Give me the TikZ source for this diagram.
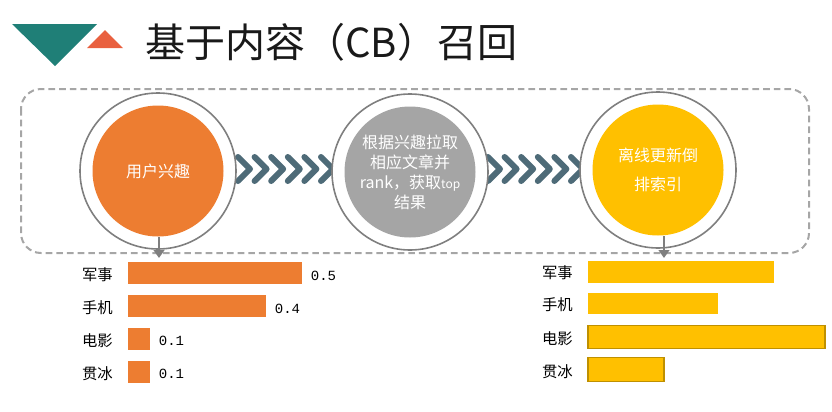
\documentclass[tikz,border=0pt]{standalone}
\usepackage{fontspec}
\setmainfont{Noto Sans CJK SC}
\setmonofont{Liberation Mono}
\usepackage{tikz}
\usetikzlibrary{arrows.meta}
\definecolor{teal70}{HTML}{1F7F77}
\definecolor{coral}{HTML}{E9603F}
\definecolor{slate}{HTML}{4E6B78}
\definecolor{orangebar}{HTML}{ED7D31}
\definecolor{gray65}{HTML}{A5A5A5}
\definecolor{goldbar}{HTML}{FFC000}
\definecolor{goldline}{HTML}{BF9000}
\definecolor{dashgray}{HTML}{A6A6A6}
\definecolor{ringgray}{HTML}{7F7F7F}

\tikzset{
  ring/.style={circle, draw=ringgray, line width=1.2pt, fill=white,
    minimum size=117pt, inner sep=0pt},
  ball/.style={circle, minimum size=98.25pt, inner sep=0pt, text=white,
    align=center, font=\fontsize{12}{15}\selectfont},
  chevron/.style={slate, line width=4.5pt, line cap=round, line join=round},
  downarrow/.style={ringgray, line width=2.2pt,
    -{Triangle[width=8pt, length=6pt]}},
  bar/.style={anchor=west, inner sep=0pt, outer sep=0pt},
  barlabel/.style={anchor=east, inner sep=0pt,
    font=\fontsize{11.5}{12}\selectfont},
  barvalue/.style={anchor=west, inner sep=0pt,
    font=\fontsize{10.5}{11}\ttfamily}
}

\begin{document}
\begin{tikzpicture}[x=0.75pt, y=-0.75pt]

  \useasboundingbox (0, 0) rectangle (832, 411);

  % title
  \fill[teal70] (12, 24) -- (97, 24) -- (55, 66) -- cycle;
  \fill[coral] (87, 48) -- (123, 48) -- (105, 30) -- cycle;
  \node[anchor=west, inner sep=0pt, text=black!90,
    font=\fontsize{30}{36}\selectfont] (title) at (145, 42) {基于内容（CB）召回};

  % dashed frame
  \draw[dashgray, line width=1.5pt, dash pattern=on 5pt off 3pt,
    rounded corners=15pt] (21, 89) rectangle (809, 253);

  % chevrons
  \foreach \x in { 250, 266.6, ..., 334 } {
    \draw[chevron] (\x-12, 157) -- (\x, 169) -- (\x-12, 181);
  }
  \foreach \x in { 500, 516.6, ..., 584 } {
    \draw[chevron] (\x-12, 157) -- (\x, 169) -- (\x-12, 181);
  }

  % circles
  \node[ring] (interest ring) at (158, 171) {};
  \node[ball, fill=orangebar] (interest) at (158, 171) {用户兴趣};

  \node[ring] (rank ring) at (410, 172) {};
  \node[ball, fill=gray65] (rank) at (410, 172)
    {根据兴趣拉取\\相应文章并\\rank，获取{\fontsize{9}{10}\selectfont top}\\结果};

  \node[ring] (index ring) at (658, 170) {};
  \node[ball, fill=goldbar, font=\fontsize{12}{21.75}\selectfont]
    (index) at (658, 170) {离线更新倒\\排索引};

  % down arrows
  \coordinate (interest tip) at (159, 258);
  \coordinate (index tip) at (664, 258);
  \draw[downarrow] (interest.south -| interest tip) -- (interest tip);
  \draw[downarrow] (index.south -| index tip) -- (index tip);

  % left bars
  \foreach \name/\len/\y/\val [count=\i] in
      { 军事/174/273/0.5, 手机/138/306/0.4, 电影/22/338.5/0.1, 贯冰/22/371.5/0.1 } {
    \node[bar, fill=orangebar, minimum width=0.75pt*\len, minimum height=16.5pt]
      (left bar \i) at (128, \y) {};
    \node[barlabel] (left label \i) at (113, \y+2) {\name};
    \node[barvalue] (left value \i) at ([xshift=6.5pt, yshift=-2pt]left bar \i.east) {\val};
  }

  % right bars
  \foreach \name/\len/\y/\h [count=\i] in
      { 军事/186/272/22, 手机/130/303.5/21 } {
    \node[bar, fill=goldbar, minimum width=0.75pt*\len, minimum height=0.75pt*\h]
      (right bar \i) at (588, \y) {};
    \node[barlabel] (right label \i) at (573, \y+1) {\name};
  }
  \foreach \name/\len/\y/\h [count=\i from 3] in
      { 电影/237/337/23, 贯冰/76/369.5/24 } {
    \node[bar, fill=goldbar, draw=goldline, line width=1.2pt,
      minimum width=0.75pt*\len, minimum height=0.75pt*\h]
      (right bar \i) at (588, \y) {};
    \node[barlabel] (right label \i) at (573, \y+2) {\name};
  }

\end{tikzpicture}
\end{document}
